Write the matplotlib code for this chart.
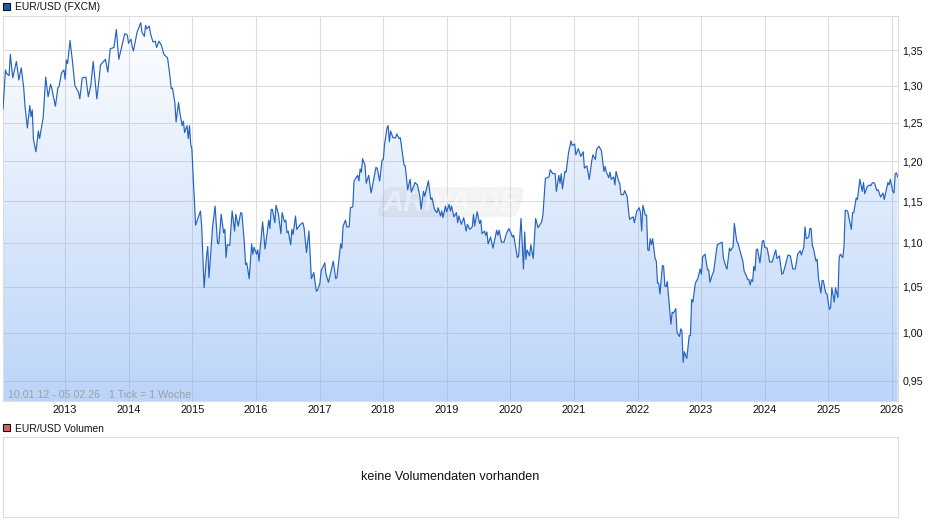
import numpy as np
import pandas as pd
import matplotlib
matplotlib.use("Agg")
import matplotlib.pyplot as plt
from matplotlib.patches import Rectangle, FancyBboxPatch
from matplotlib.transforms import Affine2D

plt.rcParams['font.family'] = ['Liberation Sans', 'DejaVu Sans']

# weekly chart, values: week number since start_date, rate
start_date = pd.Timestamp("2012-01-10")
end_date = pd.Timestamp("2026-02-05")

weeks = [
    0,2,3,5,6,8,11,13,15,17,18,20,22,23,24,25,27,29,30,33,35,37,39,40,41,43,45,46,48,50,51,52,53,55,57,59,62,63,65,68,
    70,72,74,77,79,80,84,86,88,91,93,95,98,100,102,103,105,106,107,109,110,113,114,116,117,118,120,121,123,125,126,128,130,132,135,137,138,139,141,142,
    144,145,147,148,149,151,152,153,154,155,156,157,158,162,163,165,167,168,169,172,174,176,177,179,181,182,183,184,186,188,190,191,193,195,196,198,199,200,202,204,
    205,206,208,209,210,213,215,218,219,220,221,223,224,226,228,229,231,232,233,234,236,237,238,240,241,244,246,247,249,251,253,255,257,258,260,261,264,265,267,271,
    273,274,277,278,279,281,282,284,285,287,288,291,292,293,294,295,297,298,300,302,306,307,309,311,312,313,315,316,317,318,320,322,323,325,326,329,330,332,334,335,
    338,340,342,343,345,346,349,351,352,354,356,357,359,360,361,363,364,366,367,368,370,372,373,374,376,378,380,381,383,385,386,387,389,391,392,393,395,396,397,398,
    400,402,405,406,407,409,411,413,415,417,418,419,422,423,425,427,428,429,430,432,433,435,437,439,442,443,445,448,449,451,453,454,456,457,458,459,461,462,464,466,
    467,469,470,472,474,476,477,479,481,483,484,486,487,489,491,493,494,495,497,498,499,501,502,503,505,506,507,509,510,512,514,517,518,520,522,523,524,525,527,528,
    529,530,531,532,533,535,536,537,538,539,541,542,543,544,545,546,548,549,550,552,553,555,556,557,558,559,561,563,564,565,566,568,570,572,573,574,576,578,579,580,
    582,583,586,590,591,593,594,596,597,599,600,602,603,605,607,608,610,611,612,613,614,615,616,617,618,619,621,623,624,625,627,629,631,634,635,637,639,640,642,644,
    646,648,650,652,654,655,657,658,659,661,662,663,664,665,667,668,669,671,672,673,675,676,678,679,680,682,683,685,686,687,689,690,691,693,694,696,697,698,700,701,
    703,705,706,707,709,711,712,713,714,715,717,718,720,722,723,725,726,727,728,730,731,732,733,734,
]
eurusd = [
    1.268,1.322,1.317,1.314,1.344,1.311,1.334,1.308,1.325,1.297,1.273,1.243,1.273,1.258,1.267,1.228,1.212,1.239,1.229,1.257,1.312,1.285,1.302,1.297,1.288,1.272,1.297,1.299,1.318,1.322,1.309,1.336,1.331,1.364,1.334,1.300,1.291,1.282,1.311,1.312,
    1.285,1.300,1.334,1.282,1.312,1.329,1.337,1.319,1.352,1.354,1.380,1.337,1.360,1.374,1.372,1.360,1.366,1.355,1.349,1.367,1.376,1.390,1.376,1.370,1.386,1.381,1.385,1.374,1.362,1.363,1.354,1.363,1.357,1.344,1.339,1.313,1.296,1.297,1.277,1.251,
    1.277,1.264,1.246,1.252,1.237,1.246,1.229,1.246,1.222,1.215,1.181,1.152,1.121,1.138,1.120,1.049,1.085,1.096,1.060,1.120,1.144,1.100,1.099,1.134,1.112,1.116,1.083,1.098,1.097,1.138,1.114,1.134,1.120,1.136,1.135,1.100,1.075,1.077,1.059,1.099,
    1.087,1.095,1.087,1.092,1.079,1.125,1.093,1.127,1.117,1.140,1.140,1.124,1.145,1.134,1.111,1.136,1.125,1.127,1.112,1.114,1.098,1.116,1.110,1.132,1.116,1.122,1.124,1.118,1.089,1.114,1.059,1.066,1.045,1.046,1.054,1.068,1.077,1.064,1.055,1.079,
    1.059,1.061,1.099,1.094,1.120,1.127,1.119,1.119,1.142,1.143,1.175,1.182,1.175,1.190,1.186,1.203,1.195,1.172,1.182,1.160,1.192,1.191,1.175,1.201,1.202,1.221,1.243,1.246,1.225,1.239,1.230,1.230,1.235,1.229,1.230,1.195,1.194,1.164,1.177,1.161,
    1.173,1.170,1.156,1.140,1.162,1.156,1.175,1.152,1.154,1.140,1.136,1.142,1.132,1.138,1.130,1.144,1.137,1.146,1.138,1.144,1.131,1.136,1.124,1.132,1.122,1.130,1.114,1.122,1.116,1.119,1.134,1.120,1.137,1.123,1.127,1.111,1.114,1.109,1.113,1.099,
    1.107,1.094,1.115,1.109,1.115,1.101,1.101,1.111,1.117,1.111,1.107,1.109,1.083,1.085,1.129,1.070,1.113,1.081,1.092,1.085,1.098,1.082,1.129,1.118,1.125,1.134,1.178,1.180,1.189,1.184,1.184,1.162,1.182,1.172,1.184,1.165,1.187,1.186,1.211,1.226,
    1.220,1.222,1.208,1.216,1.206,1.212,1.191,1.194,1.177,1.200,1.208,1.202,1.215,1.219,1.213,1.187,1.193,1.186,1.179,1.186,1.177,1.180,1.170,1.187,1.175,1.172,1.158,1.158,1.163,1.156,1.128,1.131,1.124,1.138,1.142,1.136,1.114,1.145,1.133,1.133,
    1.092,1.091,1.105,1.098,1.105,1.082,1.079,1.054,1.054,1.042,1.074,1.073,1.051,1.050,1.056,1.040,1.009,1.022,1.021,1.026,1.000,0.996,1.004,1.002,0.969,0.980,0.973,0.997,0.997,1.036,1.033,1.054,1.059,1.070,1.064,1.084,1.087,1.069,1.069,1.055,
    1.064,1.067,1.098,1.101,1.083,1.073,1.070,1.094,1.091,1.096,1.123,1.102,1.100,1.089,1.079,1.068,1.062,1.058,1.058,1.052,1.058,1.056,1.073,1.068,1.092,1.093,1.077,1.102,1.103,1.095,1.094,1.078,1.078,1.092,1.082,1.085,1.064,1.065,1.075,1.086,
    1.085,1.070,1.070,1.087,1.091,1.086,1.095,1.119,1.105,1.107,1.117,1.117,1.097,1.093,1.079,1.081,1.060,1.043,1.057,1.057,1.043,1.042,1.025,1.027,1.049,1.033,1.049,1.038,1.083,1.087,1.083,1.096,1.139,1.138,1.130,1.116,1.136,1.136,1.154,1.152,
    1.177,1.162,1.173,1.159,1.168,1.170,1.169,1.172,1.173,1.172,1.163,1.164,1.155,1.160,1.152,1.166,1.173,1.170,1.177,1.162,1.160,1.184,1.185,1.180,
]

years = list(range(2013, 2027))
y_ticks = [0.95, 1.00, 1.05, 1.10, 1.15, 1.20, 1.25, 1.30, 1.35]

W, H = 940, 526
GRID = "#dcdcdc"
LINE = "#2463c2"
TXT = "#111111"

fig = plt.figure(figsize=(W / 100, H / 100), dpi=100)
# pixel coordinates with origin top left, for the things around the plots
px = Affine2D().scale(1, -1).translate(0, H)


def box(left, top, right, bottom):
    return [left / W, 1 - bottom / H, (right - left) / W, (bottom - top) / H]


ax = fig.add_axes(box(3, 16, 898, 401))
dates = start_date + pd.to_timedelta(np.array(weeks) * 7, unit="D")

ax.set_yscale("log")
ax.set_axisbelow(True)
ax.grid(True, color=GRID, lw=0.75)
ax.minorticks_off()

# gradient below the line, see-through so the grid shows
n = 256
grad = np.zeros((n, 1, 4))
grad[..., 0] = 0.467
grad[..., 1] = 0.663
grad[..., 2] = 0.953
grad[:, 0, 3] = np.linspace(0, 0.5, n)
im = ax.imshow(grad, extent=(0, 1, 0, 1), transform=ax.transAxes, aspect="auto", origin="upper", zorder=1.5)
poly = ax.fill_between(dates, eurusd, 0.9, facecolor="none", edgecolor="none")
im.set_clip_path(poly.get_paths()[0], transform=ax.transData)

# watermark
cx, cy = 451, 202
skew = Affine2D().translate(-cx, -cy).skew_deg(-16, 0).translate(cx, cy) + px
ax.add_patch(FancyBboxPatch((384, 190), 134, 24, boxstyle="round,pad=3,rounding_size=6", fc="#9a9a9a", ec="none",
                            alpha=0.11, transform=skew, zorder=1.8, clip_on=False))
ax.text(451, 203, "ARIVA.DE", transform=px, ha="center", va="center", fontsize=21, fontweight="bold", style="italic",
        color="white", alpha=0.4, zorder=1.9)

ax.plot(dates, eurusd, color=LINE, lw=0.85, zorder=3)

ax.set_xlim(start_date, end_date)
ax.set_ylim(0.93, 1.40)
ax.set_xticks([pd.Timestamp(f"{y}-01-01") for y in years])
ax.set_xticklabels([str(y) for y in years])
ax.set_yticks(y_ticks)
ax.set_yticklabels([f"{v:.2f}".replace(".", ",") for v in y_ticks])
ax.yaxis.tick_right()
ax.tick_params(axis="x", length=0, labelsize=7.9, labelcolor=TXT, pad=3)
ax.tick_params(axis="y", length=0, labelsize=7.7, labelcolor=TXT, pad=3)
for s in ax.spines.values():
    s.set_color(GRID)
    s.set_linewidth(0.75)

ax.text(8, 395, "10.01.12 - 05.02.26   1 Tick = 1 Woche", transform=px, ha="left", va="center", fontsize=7.7,
        color="#a0a0a0", zorder=4)

# volume panel, stays empty
ax_vol = fig.add_axes(box(3, 437, 898, 517))
ax_vol.set_xticks([])
ax_vol.set_yticks([])
for s in ax_vol.spines.values():
    s.set_color(GRID)
    s.set_linewidth(0.75)
ax_vol.text(0.5, 0.5, "keine Volumendaten vorhanden", transform=ax_vol.transAxes, ha="center", va="center",
            fontsize=9.1, color=TXT)

# legend heads
fig.add_artist(Rectangle((3, 3), 7, 7, fc="#1a5cb8", ec="#111111", lw=0.8, transform=px))
fig.text(15, 6.5, "EUR/USD (FXCM)", transform=px, ha="left", va="center", fontsize=7.35, color=TXT)
fig.add_artist(Rectangle((3, 424), 7, 7, fc="#d9635c", ec="#111111", lw=0.8, transform=px))
fig.text(15, 428.5, "EUR/USD Volumen", transform=px, ha="left", va="center", fontsize=7.4, color=TXT)

fig.savefig("out.png", dpi=100)
